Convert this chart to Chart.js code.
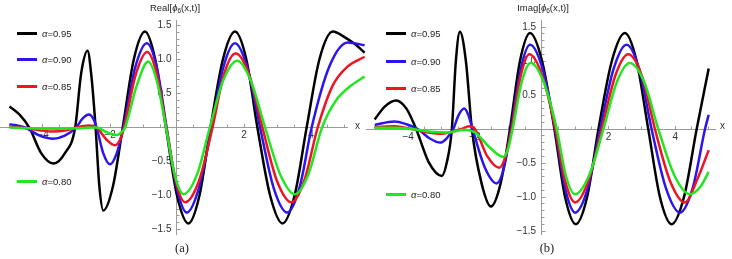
<!DOCTYPE html>
<html><head><meta charset="utf-8">
<script src="https://cdn.jsdelivr.net/npm/chart.js@4/dist/chart.umd.min.js"></script>
<style>
html,body{margin:0;padding:0;background:#fff;}
body{width:732px;height:259px;overflow:hidden;position:relative;font-family:"Liberation Sans",Arial,sans-serif;}
.panel{position:absolute;top:0;width:366px;height:259px;}
.panel canvas{position:absolute;left:0;top:0;}
.lg{position:absolute;display:flex;align-items:center;height:10px;font-size:9.5px;color:#222;white-space:nowrap;}
.lg .sw{display:inline-block;width:20px;height:3px;margin-right:5px;}
.ttl{position:absolute;font-size:9.5px;color:#222;white-space:nowrap;transform:translateX(-50%);}
.ttl sub{font-size:6.5px;vertical-align:-2px;}
.xl{position:absolute;font-size:10px;color:#333;}
.cap{position:absolute;font-family:"Liberation Serif","Times New Roman",serif;font-size:12.5px;color:#222;transform:translateX(-50%);}
</style></head>
<body>
<div class="panel" id="pa" style="left:0"><canvas id="ca" width="366" height="259"></canvas></div>
<div class="panel" id="pb" style="left:366px"><canvas id="cb" width="366" height="259"></canvas></div>
<script>
// ---------- data ----------
const alphaLabels = ['0.95', '0.90', '0.85', '0.80'];
const seriesColors = ['#000000', '#2b14ee', '#ee1420', '#22e622'];

const xMajorTicks = [-4, -2, 2, 4];
const xMinorTicks = [-5, -4.5, -4, -3.5, -3, -2.5, -2, -1.5, -1, -0.5, 0.5, 1, 1.5, 2, 2.5, 3, 3.5, 4, 4.5, 5];
const yMajorTicks = [-1.5, -1.0, -0.5, 0.5, 1.0, 1.5];
const yMinorTicks = [-1.5, -1.4, -1.3, -1.2, -1.1, -1.0, -0.9, -0.8, -0.7, -0.6, -0.5, -0.4, -0.3, -0.2, -0.1,
  0.1, 0.2, 0.3, 0.4, 0.5, 0.6, 0.7, 0.8, 0.9, 1.0, 1.1, 1.2, 1.3, 1.4, 1.5];

// Panel (a): Real[phi6(x,t)]
const realX95 = [-5.0, -4.7, -4.41, -4.05, -3.69, -3.35, -3.04, -2.86, -2.67, -2.56, -2.43, -2.32, -2.2, -1.91, -1.62, -1.29, -0.955, -0.65, -0.33, 0.0, 0.34, 0.67, 1.0, 1.37, 1.73, 2.07, 2.4, 2.78, 3.15, 3.51, 3.87, 4.25, 4.65, 5.0, 5.3, 5.6];
const realY95 = [0.31, 0.19, 0, -0.38, -0.53, -0.38, 0, 0.8, 1.13, 0.78, 0, -0.85, -1.22, -0.86, 0, 1.0, 1.41, 1.0, 0, -1.0, -1.41, -1.0, 0, 1.0, 1.41, 1.0, 0, -1.0, -1.41, -1.0, 0, 1.0, 1.41, 1.33, 1.23, 1.1];
const realX90 = [-5.0, -4.54, -4.1, -3.69, -3.35, -3.01, -2.82, -2.63, -2.5, -2.4, -2.2, -2.0, -1.8, -1.6, -1.25, -0.9, -0.6, -0.31, -0.01, 0.29, 0.66, 1.03, 1.38, 1.73, 2.1, 2.48, 2.88, 3.29, 3.66, 4.02, 4.55, 5.1, 5.6];
const realY90 = [0.05, 0, -0.12, -0.165, -0.12, 0, 0.13, 0.19, 0.13, 0, -0.38, -0.54, -0.38, 0, 0.88, 1.24, 0.88, 0, -0.88, -1.25, -0.88, 0, 0.88, 1.24, 0.88, 0, -0.88, -1.25, -0.88, 0, 0.9, 1.25, 1.21];
const realX85 = [-5.0, -4.5, -4.1, -3.7, -3.3, -3.0, -2.65, -2.4, -2.1, -1.85, -1.7, -1.58, -1.23, -0.89, -0.6, -0.32, -0.04, 0.24, 0.66, 1.06, 1.4, 1.75, 2.15, 2.55, 2.98, 3.42, 3.8, 4.2, 4.65, 5.1, 5.6];
const realY85 = [0.01, -0.01, -0.04, -0.06, -0.04, 0, 0.03, 0, -0.18, -0.26, -0.18, 0, 0.78, 1.11, 0.78, 0, -0.78, -1.1, -0.78, 0, 0.78, 1.09, 0.78, 0, -0.78, -1.1, -0.78, 0, 0.62, 0.9, 1.04];
const realX80 = [-5.0, -4.5, -3.7, -3.0, -2.4, -2.1, -1.8, -1.68, -1.55, -1.2, -0.86, -0.6, -0.33, -0.07, 0.19, 0.6, 0.98, 1.38, 1.8, 2.2, 2.63, 3.08, 3.52, 3.92, 4.33, 4.75, 5.15, 5.6];
const realY80 = [0.0, -0.01, -0.02, -0.01, 0.0, -0.07, -0.11, -0.08, 0, 0.62, 0.97, 0.68, 0, -0.69, -0.98, -0.69, 0, 0.69, 0.98, 0.69, 0, -0.69, -0.98, -0.69, 0, 0.4, 0.6, 0.75];

// Panel (b): Imag[phi6(x,t)]
const imagX95 = [-5.0, -4.7, -4.36, -4.05, -3.76, -3.38, -2.99, -2.84, -2.69, -2.57, -2.45, -2.27, -2.09, -1.8, -1.52, -1.23, -0.95, -0.65, -0.35, 0.01, 0.38, 0.7, 1.02, 1.36, 1.7, 2.1, 2.49, 2.84, 3.19, 3.54, 3.89, 4.26, 4.64, 5.0];
const imagY95 = [0.14, 0.33, 0.42, 0.3, 0, -0.49, -0.69, -0.49, 0, 1.0, 1.43, 1.0, 0, -0.8, -1.14, -0.8, 0, 1.0, 1.41, 1.0, 0, -1.0, -1.4, -1.0, 0, 1.0, 1.41, 1.0, 0, -1.0, -1.4, -1.0, 0, 0.89];
const imagX90 = [-5.0, -4.41, -4.05, -3.71, -3.35, -3.04, -2.85, -2.65, -2.48, -2.32, -2.2, -2.07, -1.7, -1.35, -1.13, -0.92, -0.63, -0.35, 0.03, 0.4, 0.7, 1.0, 1.38, 1.75, 2.15, 2.54, 2.92, 3.29, 3.72, 4.14, 4.52, 4.89, 5.0];
const imagY90 = [0.06, 0.11, 0.07, 0, -0.14, -0.2, -0.14, 0, 0.21, 0.3, 0.21, 0, -0.57, -0.8, -0.57, 0, 0.88, 1.24, 0.88, 0, -0.87, -1.23, -0.87, 0, 0.88, 1.24, 0.88, 0, -0.87, -1.23, -0.87, 0, 0.21];
const imagX85 = [-5.0, -4.4, -3.9, -3.4, -3.0, -2.6, -2.4, -2.17, -2.0, -1.63, -1.27, -1.08, -0.9, -0.63, -0.37, 0.02, 0.41, 0.7, 1.0, 1.4, 1.8, 2.2, 2.59, 3.0, 3.39, 3.84, 4.29, 4.65, 5.0];
const imagY85 = [0.03, 0.04, 0, -0.05, -0.07, -0.03, 0, 0.04, 0, -0.4, -0.57, -0.4, 0, 0.78, 1.1, 0.78, 0, -0.76, -1.08, -0.76, 0, 0.78, 1.1, 0.78, 0, -0.76, -1.08, -0.75, -0.31];
const imagX80 = [-5.0, -4.4, -3.9, -3.3, -2.8, -2.3, -2.0, -1.6, -1.15, -1.0, -0.87, -0.6, -0.33, 0.06, 0.45, 0.72, 1.0, 1.42, 1.85, 2.25, 2.64, 3.07, 3.49, 3.97, 4.44, 4.75, 5.0];
const imagY80 = [0.02, 0.02, 0, -0.04, -0.05, -0.01, -0.05, -0.25, -0.41, -0.28, 0, 0.69, 0.97, 0.69, 0, -0.68, -0.96, -0.68, 0, 0.69, 0.97, 0.69, 0, -0.68, -0.96, -0.85, -0.63];

// ---------- helpers ----------
// points are handed over right-to-left so Chart.js keeps every point (also those past the axis end)
const pts = (xs, ys) => xs.map((x, i) => ({x: x, y: ys[i]})).reverse();
const minus = s => s.replace('-', '\u2212');

function makeChart(canvasId, seriesXs, seriesYs, range) {
  const datasets = seriesXs.map((xs, i) => ({
    label: 'α=' + alphaLabels[i],
    data: pts(xs, seriesYs[i]),
    borderColor: seriesColors[i],
    backgroundColor: seriesColors[i],
    borderWidth: 2.5,
    pointRadius: 0,
    showLine: true,
    fill: false,
    cubicInterpolationMode: 'monotone',
    clip: false,
    order: seriesXs.length - i,
    xAxisID: 'x', yAxisID: 'y'
  }));
  const tickFont = {family: '"Liberation Sans", Arial, sans-serif', size: 10};
  return new Chart(document.getElementById(canvasId), {
    type: 'scatter',
    data: {datasets: datasets},
    options: {
      responsive: false, animation: false, devicePixelRatio: 1,
      layout: {padding: range.pad},
      plugins: {legend: {display: false}, tooltip: {enabled: false}},
      scales: {
        x: {
          type: 'linear', min: range.xmin, max: range.xmax, position: {y: 0},
          afterBuildTicks: s => { s.ticks = xMajorTicks.map(v => ({value: v})); },
          grid: {drawOnChartArea: false, drawTicks: true, tickLength: -4, color: '#9a9a9a'},
          border: {display: true, color: '#9a9a9a', width: 1},
          ticks: {padding: 6, font: tickFont, color: '#333', maxRotation: 0,
                  callback: v => minus(String(v))}
        },
        x2: {
          type: 'linear', min: range.xmin, max: range.xmax, position: {y: 0},
          afterBuildTicks: s => { s.ticks = xMinorTicks.map(v => ({value: v})); },
          grid: {drawOnChartArea: false, drawTicks: true, tickLength: -2.5, color: '#9a9a9a'},
          border: {display: false},
          ticks: {display: false}
        },
        y: {
          type: 'linear', min: range.ymin, max: range.ymax, position: {x: 0},
          afterBuildTicks: s => { s.ticks = yMajorTicks.map(v => ({value: v})); },
          grid: {drawOnChartArea: false, drawTicks: true, tickLength: -4.5, color: '#9a9a9a'},
          border: {display: true, color: '#9a9a9a', width: 1},
          ticks: {font: tickFont, color: '#333',
                  callback: v => minus(v.toFixed(1)) + '  '}
        },
        y2: {
          type: 'linear', min: range.ymin, max: range.ymax, position: {x: 0},
          afterBuildTicks: s => { s.ticks = yMinorTicks.map(v => ({value: v})); },
          grid: {drawOnChartArea: false, drawTicks: true, tickLength: -2.5, color: '#9a9a9a'},
          border: {display: false},
          ticks: {display: false}
        }
      }
    }
  });
}

makeChart('ca', [realX95, realX90, realX85, realX80], [realY95, realY90, realY85, realY80],
  {xmin: -177 / 33.5, xmax: 170 / 33.5, ymin: -106.5 / 68, ymax: 107.5 / 68,
   pad: {left: 0, right: 19, top: 20, bottom: 25}});
makeChart('cb', [imagX95, imagX90, imagX85, imagX80], [imagY95, imagY90, imagY85, imagY80],
  {xmin: -175.7 / 33.4, xmax: 173.3 / 33.4, ymin: -105 / 68, ymax: 109 / 68,
   pad: {left: 0, right: 17, top: 20, bottom: 25}});

// ---------- text overlays (legend, titles, captions, axis names) ----------
function addLegend(panelId, left, centersY) {
  const p = document.getElementById(panelId);
  alphaLabels.forEach((lab, i) => {
    const d = document.createElement('div');
    d.className = 'lg';
    d.style.left = left + 'px';
    d.style.top = (centersY[i] - 5) + 'px';
    d.innerHTML = '<span class="sw" style="background:' + seriesColors[i] + '"></span><span><i>α</i>=' + lab + '</span>';
    p.appendChild(d);
  });
}
addLegend('pa', 17, [33, 59.5, 86.5, 181]);
addLegend('pb', 20, [33.5, 61, 88, 194]);

function addText(panelId, cls, left, top, html) {
  const d = document.createElement('div');
  d.className = cls; d.style.left = left + 'px'; d.style.top = top + 'px'; d.innerHTML = html;
  document.getElementById(panelId).appendChild(d);
}
addText('pa', 'ttl', 175, 2, 'Real[<i>ϕ</i><sub>6</sub>(x,t)]');
addText('pb', 'ttl', 177, 2, 'Imag[<i>ϕ</i><sub>6</sub>(x,t)]');
addText('pa', 'xl', 355, 120, 'x');
addText('pb', 'xl', 354, 120, 'x');
addText('pa', 'cap', 182, 241, '(a)');
addText('pb', 'cap', 181, 241, '(b)');
</script>
</body></html>
